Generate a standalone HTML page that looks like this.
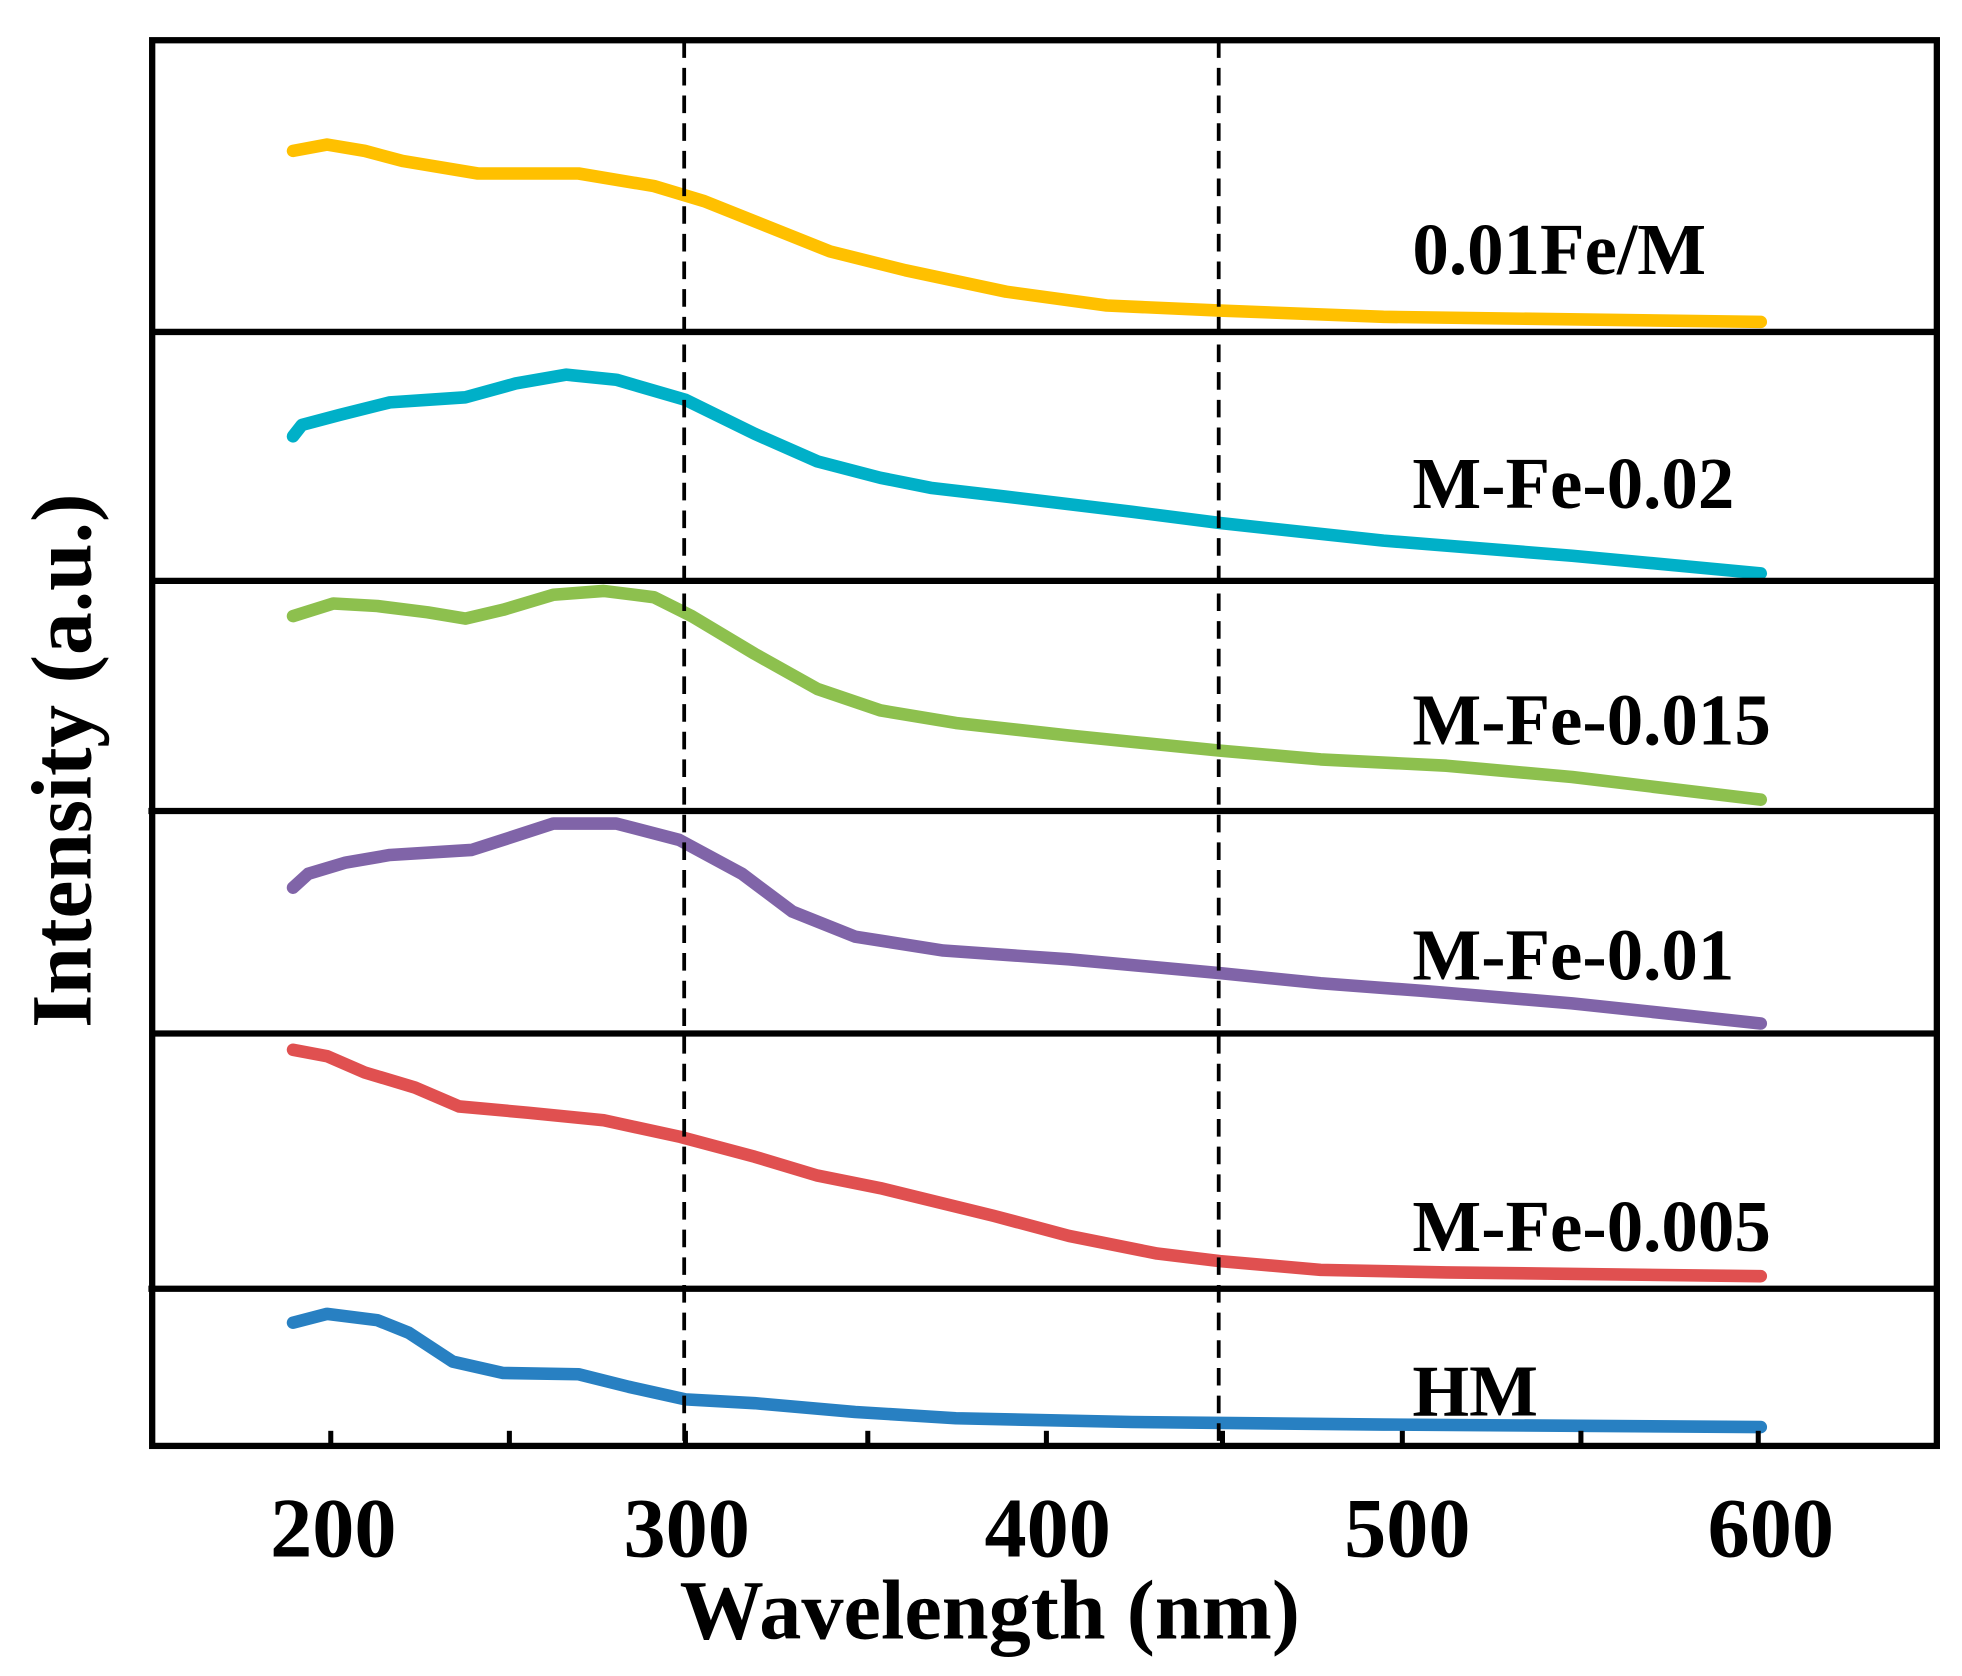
<!DOCTYPE html>
<html><head><meta charset="utf-8"><style>html,body{margin:0;padding:0;background:#fff}svg{display:block}</style></head>
<body>
<svg width="1962" height="1676" viewBox="0 0 1560 1333" preserveAspectRatio="none" xmlns="http://www.w3.org/2000/svg">
<rect width="1560" height="1333" fill="#fff"/>
<g fill="none" stroke-width="10" stroke-linecap="round" stroke-linejoin="round">
<polyline stroke="#FFC000" points="233,120 260,115 290,120 320,128 380,138 460,138 520,148 560,160 610,180 660,200 720,215 800,232 880,243 970,247 1100,252 1400,256"/>
<polyline stroke="#00B0C8" points="233,347 240,338 270,330 310,320 370,316 410,305 450,298 490,302 545,318 600,345 650,367 700,380 740,388 800,395 900,407 970,416 1100,430 1250,442 1400,456"/>
<polyline stroke="#8DC04E" points="233,490 265,480 300,482 340,487 370,492 400,485 440,473 480,470 520,475 550,490 600,520 650,548 700,565 760,575 850,585 970,597 1050,604 1150,609 1250,618 1400,636"/>
<polyline stroke="#8064A8" points="233,706 245,695 275,686 310,680 375,676 400,668 440,655 490,655 540,668 590,695 630,725 680,745 750,756 850,763 970,774 1050,782 1130,788 1250,798 1400,814"/>
<polyline stroke="#E05050" points="233,835 260,840 290,853 330,865 365,880 420,885 480,891 540,904 600,920 650,935 700,945 790,967 850,983 920,997 970,1003 1050,1010 1150,1012 1400,1015"/>
<polyline stroke="#2880C2" points="233,1052 260,1045 300,1050 325,1060 360,1083 400,1092 460,1093 500,1103 545,1113 600,1116 680,1123 760,1128 900,1131 1100,1133 1400,1135"/>
</g>
<g stroke="#000" stroke-width="3" stroke-dasharray="14,8">
<line x1="544" y1="32" x2="544" y2="1150"/>
<line x1="969" y1="32" x2="969" y2="1150"/>
</g>
<g stroke="#000" stroke-width="5" fill="none">
<rect x="121" y="32" width="1419" height="1118"/>
<line x1="121" y1="264" x2="1540" y2="264"/>
<line x1="121" y1="462" x2="1540" y2="462"/>
<line x1="118" y1="645" x2="1540" y2="645"/>
<line x1="121" y1="822" x2="1540" y2="822"/>
<line x1="118" y1="1025" x2="1540" y2="1025"/>
</g>
<g stroke="#000" stroke-width="4">
<line x1="263" y1="1150" x2="263" y2="1138"/><line x1="405" y1="1150" x2="405" y2="1138"/>
<line x1="545" y1="1150" x2="545" y2="1138"/><line x1="690" y1="1150" x2="690" y2="1138"/>
<line x1="832" y1="1150" x2="832" y2="1138"/><line x1="972" y1="1150" x2="972" y2="1138"/>
<line x1="1115" y1="1150" x2="1115" y2="1138"/><line x1="1257" y1="1150" x2="1257" y2="1138"/>
<line x1="1398" y1="1150" x2="1398" y2="1138"/>
</g>
<g font-family="Liberation Serif, serif" font-weight="bold" fill="#000">
<g font-size="67" text-anchor="middle">
<text x="265" y="1238">200</text><text x="546" y="1238">300</text><text x="833" y="1238">400</text><text x="1119" y="1238">500</text><text x="1408" y="1238">600</text>
</g>
<text x="787" y="1303" font-size="67" text-anchor="middle">Wavelength (nm)</text>
<text transform="translate(72,605) rotate(-90)" font-size="68" text-anchor="middle">Intensity (a.u.)</text>
<g font-size="58">
<text x="1123" y="218">0.01Fe/M</text>
<text x="1123" y="404">M-Fe-0.02</text>
<text x="1123" y="592">M-Fe-0.015</text>
<text x="1123" y="779">M-Fe-0.01</text>
<text x="1123" y="995">M-Fe-0.005</text>
<text x="1123" y="1126">HM</text>
</g>
</g>
</svg>
</body></html>
